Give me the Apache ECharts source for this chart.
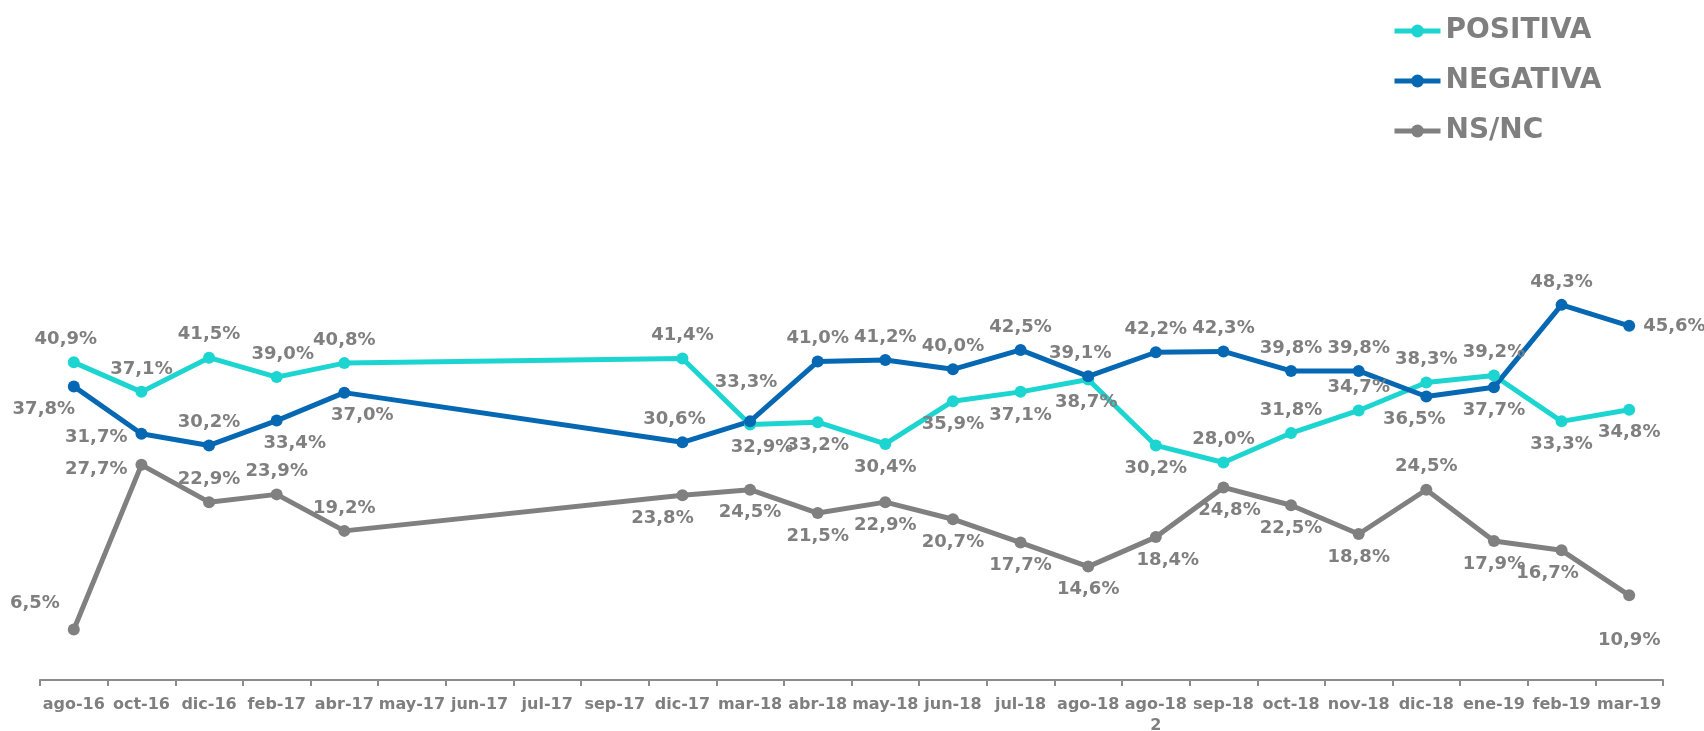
<!DOCTYPE html>
<html>
<head>
<meta charset="utf-8">
<script src="https://cdn.jsdelivr.net/npm/echarts@6/dist/echarts.min.js"></script>
<style>
  html, body { margin: 0; padding: 0; background: #fff; }
  #chart { width: 1704px; height: 731px; }
</style>
</head>
<body>
<div id="chart"></div>
<script>
const categories = ['ago-16', 'oct-16', 'dic-16', 'feb-17', 'abr-17', 'may-17', 'jun-17', 'jul-17', 'sep-17', 'dic-17',
  'mar-18', 'abr-18', 'may-18', 'jun-18', 'jul-18', 'ago-18', 'ago-18\n2', 'sep-18', 'oct-18', 'nov-18',
  'dic-18', 'ene-19', 'feb-19', 'mar-19'];

const positiva = [40.9, 37.1, 41.5, 39.0, 40.8, null, null, null, null, 41.4,
  32.9, 33.2, 30.4, 35.9, 37.1, 38.7, 30.2, 28.0, 31.8, 34.7,
  38.3, 39.2, 33.3, 34.8];
const negativa = [37.8, 31.7, 30.2, 33.4, 37.0, null, null, null, null, 30.6,
  33.3, 41.0, 41.2, 40.0, 42.5, 39.1, 42.2, 42.3, 39.8, 39.8,
  36.5, 37.7, 48.3, 45.6];
const nsnc = [6.5, 27.7, 22.9, 23.9, 19.2, null, null, null, null, 23.8,
  24.5, 21.5, 22.9, 20.7, 17.7, 14.6, 18.4, 24.8, 22.5, 18.8,
  24.5, 17.9, 16.7, 10.9];

// label placement for each point (T = top, B = bottom, L = left, R = right)
const posPositiva = 'TTTTT----TBBBBBBBTTTTTBB';
const posNegativa = 'BLTBB----TTTTTTTTTTTBBTR';
const posNsnc     = 'LLTTT----BBBBBBBBBBBTBBB';

const grey = '#7f7f7f';
const font = '"DejaVu Sans", sans-serif';
const posMap = { T: 'top', B: 'bottom', L: 'left', R: 'right' };

function buildData(values, positions, offsets) {
  return values.map((v, i) => {
    if (v === null) return null;
    const item = { value: v, label: { position: posMap[positions[i]] } };
    if (offsets[i]) item.label.offset = offsets[i];
    return item;
  });
}

function makeSeries(name, color, values, positions, offsets) {
  return {
    name: name,
    type: 'line',
    data: buildData(values, positions, offsets),
    connectNulls: true,
    symbol: 'circle',
    symbolSize: 12,
    lineStyle: { color: color, width: 5 },
    itemStyle: { color: color },
    label: {
      show: true,
      color: grey,
      fontFamily: font,
      fontWeight: 'bold',
      fontSize: 18,
      distance: 8,
      formatter: p => p.value.toFixed(1).replace('.', ',') + '%'
    }
  };
}

const option = {
  animation: false,
  legend: {
    orient: 'vertical',
    left: 1387,
    top: 12,
    itemWidth: 46,
    itemHeight: 16,
    itemGap: 22,
    lineStyle: { width: 5 },
    textStyle: { color: grey, fontFamily: font, fontWeight: 'bold', fontSize: 28 }
  },
  grid: { left: 40, right: 41, top: 214, bottom: 51, outerBoundsMode: 'none', containLabel: false },
  xAxis: {
    type: 'category',
    data: categories,
    boundaryGap: true,
    axisLine: { lineStyle: { color: '#8c8c8c', width: 2 } },
    axisTick: { show: true, length: 6, lineStyle: { color: '#8c8c8c', width: 2 } },
    axisLabel: { interval: 0, color: grey, fontFamily: font, fontWeight: 'bold', fontSize: 16, margin: 14, lineHeight: 21 }
  },
  yAxis: { type: 'value', min: 0, max: 60, show: false, splitLine: { show: false } },
  series: [
    makeSeries('POSITIVA', '#1dd5d0', positiva, posPositiva, { 0: [-8, 0], 3: [6, 0], 10: [12, 0], 15: [-2, 0] }),
    makeSeries('NEGATIVA', '#0668b3', negativa, posNegativa, { 0: [-30, 0], 1: [0, 4], 3: [18, 0], 4: [18, 0], 9: [-8, 0], 10: [-4, -16], 15: [-8, 0], 20: [-12, 0] }),
    makeSeries('NS/NC', '#808080', nsnc, posNsnc, { 0: [0, -26], 1: [0, 4], 9: [-20, 0], 16: [12, 0], 17: [6, 0], 22: [-14, 0], 23: [0, 22] })
  ]
};

const chart = echarts.init(document.getElementById('chart'));
chart.setOption(option);
</script>
</body>
</html>
